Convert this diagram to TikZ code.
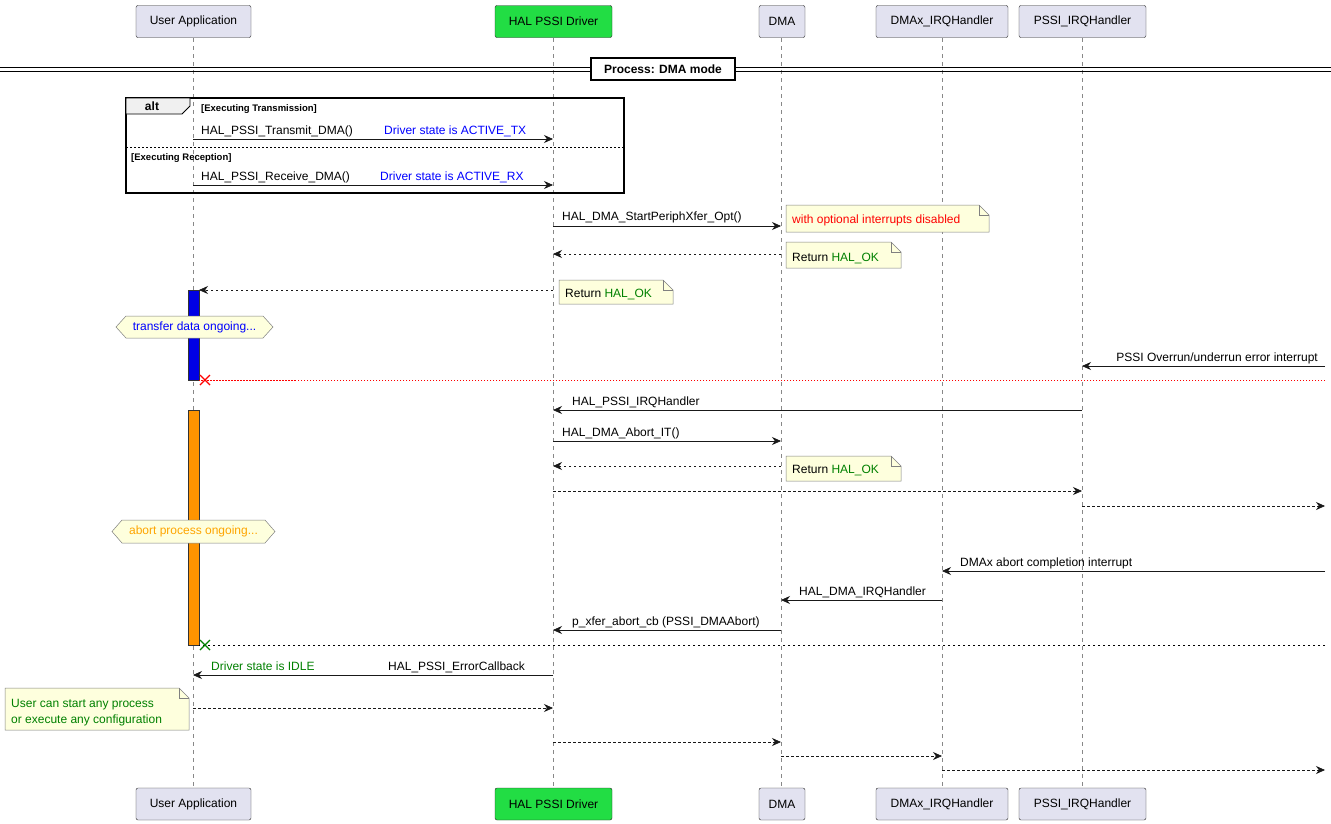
\documentclass[tikz,border=0pt]{standalone}
\usepackage{fontspec}
\setmainfont{Liberation Sans}
\usetikzlibrary{arrows.meta}
\definecolor{part}{HTML}{E2E2F0}
\definecolor{notec}{HTML}{FEFFDD}
\definecolor{halg}{HTML}{22DD44}
\definecolor{okg}{HTML}{008000}
\definecolor{orng}{HTML}{FFA500}
\definecolor{lifec}{HTML}{888888}
\begin{document}
\begin{tikzpicture}[x=1pt,y=-1pt,font=\fontsize{12}{14}\selectfont,
  partbox/.style={draw=black!85,fill=part,rounded corners=2pt,minimum height=32pt,inner xsep=6pt,anchor=center},
  msgline/.style={draw=black!90,line width=0.7pt,-{Stealth[length=9pt,width=8pt]}},
  retline/.style={msgline,dash pattern=on 2.5pt off 2.5pt},
  lbl/.style={anchor=base west,inner sep=0pt},
  notebox/.style={draw=black!50,fill=notec,line width=0.5pt},
  hexa/.style={draw=black!50,fill=notec,line width=0.5pt}]
\useasboundingbox (0,0) rectangle (1331,823);
\fill[white] (0,0) rectangle (1331,823);
% lifelines
\foreach \x in {193,553,781,942,1082}{\draw[lifec,dash pattern=on 4pt off 4pt,line width=0.5pt] (\x,38) -- (\x,788);}
% participants
\foreach \y/\s in {21.5/t,804/b}{
\node[partbox,minimum width=115pt] (ua\s) at (193.5,\y) {User Application};
\node[partbox,minimum width=117pt,fill=halg] (hal\s) at (553.5,\y) {HAL PSSI Driver};
\node[partbox,minimum width=46pt] (dma\s) at (782,\y) {DMA};
\node[partbox,minimum width=132pt] (dirq\s) at (942,\y) {DMAx\_IRQHandler};
\node[partbox,minimum width=127pt] (pirq\s) at (1082.5,\y) {PSSI\_IRQHandler};
}
% divider
\draw[line width=0.8pt] (0,67) -- (1331,67) (0,71) -- (1331,71);
\node[draw,line width=1.2pt,fill=notec!0!white,minimum width=144pt,minimum height=22pt,font=\fontsize{12}{14}\selectfont\bfseries] (div) at (663,69) {Process: DMA mode};
% activation bars
\node[draw=black!80,fill=blue!90!black,minimum width=11pt,minimum height=90pt,inner sep=0pt,anchor=north] (act1) at (193.5,290) {};
\node[draw=black!80,fill=orng!90!red,minimum width=11pt,minimum height=235pt,inner sep=0pt,anchor=north] (act2) at (193.5,410) {};
% alt frame
\draw[line width=1.2pt] (126,98) rectangle (624,193);
\draw[line width=0.8pt,fill=black!6] (126,98) -- (190,98) -- (190,106) -- (182,114) -- (126,114) -- cycle;
\node[font=\fontsize{12}{14}\selectfont\bfseries] (altt) at (152,106) {alt};
\node[lbl,font=\fontsize{9.5}{11}\selectfont\bfseries] (c1) at (201,111) {[Executing Transmission]};
\draw[dash pattern=on 2pt off 2pt,line width=0.6pt] (126,147) -- (624,147);
\node[lbl,font=\fontsize{9.5}{11}\selectfont\bfseries] (c2) at (131,160) {[Executing Reception]};
% messages
\draw[msgline] (193,139) -- (553,139);
\node[lbl] (m1) at (201,134) {HAL\_PSSI\_Transmit\_DMA()};
\node[lbl,text=blue] (m1b) at (384,134) {Driver state is ACTIVE\_TX};
\draw[msgline] (193,185) -- (553,185);
\node[lbl] (m2) at (201,180) {HAL\_PSSI\_Receive\_DMA()};
\node[lbl,text=blue] (m2b) at (380,180) {Driver state is ACTIVE\_RX};
\draw[msgline] (553,226) -- (781,226);
\node[lbl] (m3) at (562,220) {HAL\_DMA\_StartPeriphXfer\_Opt()};
\draw[retline] (781,254) -- (553,254);
\draw[retline] (553,290) -- (199,290);
\draw[msgline] (1325,366) -- (1082,366);
\node[lbl,anchor=base east] (m4) at (1318,361) {PSSI Overrun/underrun error interrupt};
\draw[red,line width=0.7pt,dash pattern=on 1.5pt off 1.5pt] (1325,380) -- (199,380);
\draw[red,line width=1.3pt] (200,375) -- (210,385) (200,385) -- (210,375);
\draw[msgline] (1082,410) -- (553,410);
\node[lbl] (m5) at (572,405) {HAL\_PSSI\_IRQHandler};
\draw[msgline] (553,441) -- (781,441);
\node[lbl] (m6) at (562,436) {HAL\_DMA\_Abort\_IT()};
\draw[retline] (781,466) -- (553,466);
\draw[retline] (553,491) -- (1082,491);
\draw[retline] (1082,506) -- (1325,506);
\draw[msgline] (1325,571) -- (942,571);
\node[lbl] (m7) at (960,566) {DMAx abort completion interrupt};
\draw[msgline] (942,600) -- (781,600);
\node[lbl] (m8) at (799,595) {HAL\_DMA\_IRQHandler};
\draw[msgline] (781,630) -- (553,630);
\node[lbl] (m9) at (572,625) {p\_xfer\_abort\_cb (PSSI\_DMAAbort)};
\draw[line width=0.6pt,dash pattern=on 2.5pt off 2.5pt] (1325,645) -- (199,645);
\draw[okg,line width=1.3pt] (200,640) -- (210,650) (200,650) -- (210,640);
\draw[msgline] (553,675) -- (193,675);
\node[lbl] (m10) at (388,670) {HAL\_PSSI\_ErrorCallback};
\node[lbl,text=okg] (m10b) at (211,670) {Driver state is IDLE};
\draw[retline] (193,708) -- (553,708);
\draw[retline] (553,742) -- (781,742);
\draw[retline] (781,756) -- (942,756);
\draw[retline] (942,770) -- (1325,770);
% notes
\newcommand\notep[4]{\draw[notebox] (#1,#2) -- (#3-10,#2) -- (#3,#2+10) -- (#3,#4) -- (#1,#4) -- cycle; \draw[notebox,fill=none] (#3-10,#2) -- (#3-10,#2+10) -- (#3,#2+10);}
\notep{786}{205}{989}{232}
\node[lbl,text=red] (n1) at (792,223) {with optional interrupts disabled};
\notep{786}{242}{901}{268}
\node[lbl] (n2) at (792,261) {Return \textcolor{okg}{HAL\_OK}};
\notep{559}{280}{673}{304}
\node[lbl] (n3) at (565,297) {Return \textcolor{okg}{HAL\_OK}};
\notep{786}{456}{901}{481}
\node[lbl] (n4) at (792,473) {Return \textcolor{okg}{HAL\_OK}};
\notep{5}{688}{189}{730}
\node[lbl,text=okg] (n5) at (11,707) {User can start any process};
\node[lbl,text=okg] (n5b) at (11,723) {or execute any configuration};
% hexagons
\draw[hexa] (116,327) -- (126,316) -- (263,316) -- (273,327) -- (263,338) -- (126,338) -- cycle;
\node[text=blue] (h1) at (194.5,327) {transfer data ongoing...};
\draw[hexa] (112,531.5) -- (122,520) -- (265,520) -- (275,531.5) -- (265,543) -- (122,543) -- cycle;
\node[text=orng] (h2) at (193.5,531.5) {abort process ongoing...};
\end{tikzpicture}
\end{document}
